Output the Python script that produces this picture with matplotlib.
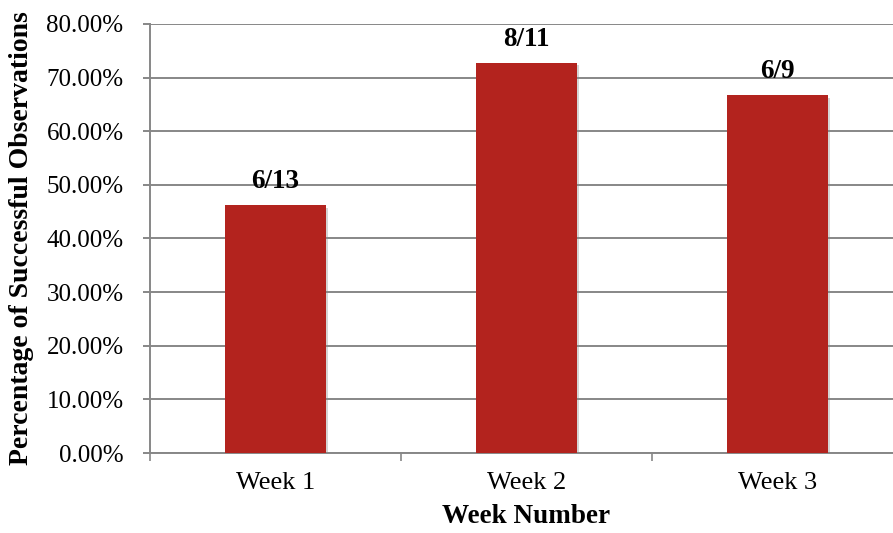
import matplotlib
matplotlib.use("Agg")
import matplotlib.pyplot as plt
import matplotlib.patheffects as pe
from matplotlib.ticker import FixedLocator, FuncFormatter

categories = ["Week 1", "Week 2", "Week 3"]
values = [6/13, 8/11, 6/9]
bar_labels = ["6/13", "8/11", "6/9"]
y_ticks = [0.0, 0.1, 0.2, 0.3, 0.4, 0.5, 0.6, 0.7, 0.8]

plt.rcParams['font.family'] = ['Liberation Serif', 'DejaVu Serif']

fig = plt.figure(figsize=(8.93, 5.33), dpi=100)
ax = fig.add_axes([150/893, 80/533, 753/893, 429/533])

x = list(range(len(categories)))
bars = ax.bar(x, values, width=0.4, color="#B3231E", zorder=3)
for b in bars:
    b.set_path_effects([pe.SimplePatchShadow(offset=(1.5, -1.5), shadow_rgbFace="#888888", alpha=0.35), pe.Normal()])

for xi, v, lab in zip(x, values, bar_labels):
    ax.annotate(lab, (xi, v), xytext=(0, 12.5), textcoords="offset points",
                ha="center", va="baseline", fontsize=19.5, fontweight="bold", color="black")

ax.set_xlim(-0.5, 2.5)
ax.set_ylim(0, 0.8)
ax.set_yticks(y_ticks)
ax.yaxis.set_major_formatter(FuncFormatter(lambda v, p: f"{v*100:.2f}%"))
ax.grid(axis="y", color="#878787", linewidth=1.4, zorder=0)
ax.set_axisbelow(True)

ax.set_xticks(x)
ax.set_xticklabels(categories)
ax.xaxis.set_minor_locator(FixedLocator([-0.5, 0.5, 1.5, 2.5]))
ax.tick_params(axis="x", which="major", length=0, pad=14, labelsize=19)
ax.tick_params(axis="x", which="minor", length=6, width=1.2, color="#878787", direction="out")
ax.tick_params(axis="y", which="major", length=5, width=1.4, color="#878787", pad=14, labelsize=18)

for s in ["top", "right"]:
    ax.spines[s].set_visible(False)
for s in ["left", "bottom"]:
    ax.spines[s].set_color("#878787")
    ax.spines[s].set_linewidth(1.4)

ax.set_xlabel("Week Number", fontsize=19.5, fontweight="bold")
ax.xaxis.label.set_va("baseline")
ax.xaxis.set_label_coords(0.5, (453-523)/429)
ax.set_ylabel("Percentage of Successful Observations", fontsize=20, fontweight="bold")
ax.yaxis.label.set_va("center")
ax.yaxis.set_label_coords((22-150)/753, 0.5)

fig.savefig("out.png", dpi=100)
